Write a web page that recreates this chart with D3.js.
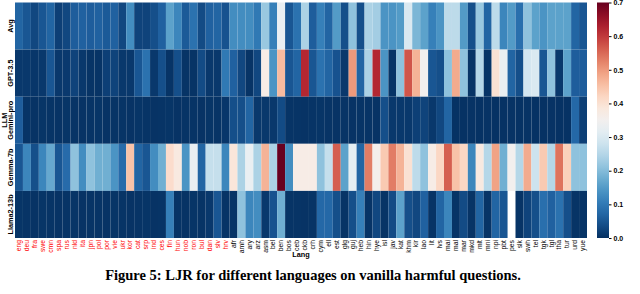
<!DOCTYPE html>
<html>
<head>
<meta charset="utf-8">
<script src="https://cdn.jsdelivr.net/npm/d3@7"></script>
<style>
  body { margin: 0; background: #fff; }
  svg { display: block; }
</style>
</head>
<body>
<svg id="chart" width="640" height="294"></svg>
<script>
// rows of the heatmap (top to bottom)
const models = ["Avg", "GPT-3.5", "Gemini-pro", "Gemma-7b", "Llama2-13b"];

// columns; the first 27 are drawn in red
const langs = [
  "eng","deu","fra","swe","cmn","spa","rus","nld","ita","jpn","pol","por","vie","ukr",
  "kor","cat","srp","ind","ces","fin","hun","nob","ron","bul","dan","slv","hrv",
  "afr","amh","ary","arz","asm","bel","ben","bos","ceb","ckb","crh","cym","ell","est",
  "glg","guj","heb","hin","hye","isl","jav","kat","khm","kir","lao","lit","lvs",
  "mai","mal","mar","mkd","mlt","mni","npi","pbt","pes","slk","swh","tel","tgk","tgl",
  "tha","tur","urd","yue"
];
const redCount = 27;

// LJR values per model, one per language (null = missing)
const avgVals = [
  0.07,0.05,0.03,0.05,0.07,0.02,0.03,0.06,0.065,0.06,0.065,0.055,0.065,0.03,
  0.13,0.025,0.025,0.04,0.065,0.16,0.12,0.055,0.09,0.035,0.065,0.07,0.045,
  0.13,0.13,0.13,0.10,0.22,0.11,0.33,0.05,0.09,0.24,0.06,0.11,0.07,0.15,
  0.04,0.21,0.04,0.24,0.23,0.14,0.14,0.15,0.30,0.19,0.16,0.11,0.14,
  0.26,0.26,0.15,0.04,0.22,0.07,0.26,0.12,0.15,0.085,0.21,0.16,0.14,
  0.16,0.16,0.16,0.07,0.05
];
const gptVals = [
  0.01,0.01,0.008,0.01,0.05,0.01,0.012,0.025,0.01,0.005,0.005,0.02,0.025,0.01,
  0.01,0.05,0.09,0.01,0.04,0.005,0.04,0.005,0.005,0.035,0.01,0.01,0.10,
  0.065,0.03,0.005,0.03,0.37,0.14,0.46,0.05,0.07,0.62,0.05,0.09,0.07,0.045,
  0.01,0.50,0.07,0.24,0.62,0.14,0.005,0.21,0.57,0.47,0.35,0.05,0.04,
  0.21,0.48,0.21,0.005,0.25,0.005,0.40,0.33,0.07,0.04,0.29,0.30,0.05,
  0.21,0.01,0.16,0.06,0.06
];
const geminiVals = [
  0.06,0.005,0.004,0.006,0.005,0.004,0.006,0.005,0.004,0.005,0.006,0.004,0.005,0.005,
  0.004,0.006,0.005,0.004,0.005,0.006,0.004,0.005,0.005,0.004,0.006,0.005,0.008,
  0.04,0.04,0.07,0.01,0.01,0.01,0.035,0.005,0.005,0.004,0.005,0.006,0.005,0.004,
  0.005,0.004,0.005,0.005,0.004,0.04,0.01,0.01,0.01,0.02,0.025,0.01,0.03,
  0.07,0.003,0.003,0.004,0.003,0.004,0.003,0.003,0.004,0.003,0.004,0.003,0.003,
  0.004,0.003,0.003,0.075,0.02
];
const gemmaVals = [
  0.05,0.12,0.04,0.12,0.17,0.05,0.08,0.21,0.13,0.21,0.18,0.18,0.14,0.08,
  0.45,0.07,0.05,0.13,0.18,0.41,0.38,0.14,0.33,0.07,0.27,0.27,0.12,
  0.39,0.24,0.33,0.24,0.47,0.24,0.70,0.13,0.37,0.37,0.37,0.21,0.27,0.56,
  0.16,0.32,0.07,0.53,0.36,0.44,0.53,0.47,0.40,0.26,0.21,0.37,0.42,
  0.56,0.45,0.42,0.12,0.38,0.25,0.49,0.18,0.35,0.25,0.48,0.28,0.44,
  0.25,0.54,0.43,0.21,0.21
];
const llamaVals = [
  0.006,0.005,0.004,0.006,0.005,0.004,0.005,0.006,0.004,0.005,0.005,0.004,0.006,0.005,
  0.004,0.005,0.006,0.004,0.005,0.11,0.005,0.004,0.006,0.005,0.01,0.05,0.005,
  0.005,0.21,0.12,0.13,0.01,0.045,0.18,0.005,0.005,0.004,0.005,0.075,0.075,0.04,
  0.005,0.04,0.11,0.005,0.03,0.005,0.035,0.16,0.04,0.03,0.065,0.005,0.07,
  0.12,0.005,0.035,0.005,0.07,0.005,0.07,0.05,null,0.005,0.025,0.04,0.085,
  0.065,0.09,0.04,0.005,0.005
];
const cbTicks = [0, 0.1, 0.2, 0.3, 0.4, 0.5, 0.6, 0.7];

const rows = [avgVals, gptVals, geminiVals, gemmaVals, llamaVals];
const cells = [];
rows.forEach((vals, r) => {
  vals.forEach((v, c) => {
    if (v !== null) cells.push({ model: models[r], lang: langs[c], value: v });
  });
});

const plotLeft = 15, plotRight = 587;
const plotTop = 2.5, plotBottom = 238;

const svg = d3.select("#chart");
const font = "'Liberation Sans', Arial, sans-serif";

const x = d3.scaleBand().domain(langs).range([plotLeft, plotRight]);
const y = d3.scaleBand().domain(models).range([plotTop, plotBottom]);
const color = d3.scaleSequential(t => d3.interpolateRdBu(1 - t)).domain([0, 0.7]);

svg.append("g")
  .selectAll("rect")
  .data(cells)
  .join("rect")
  .attr("x", d => x(d.lang))
  .attr("y", d => y(d.model))
  .attr("width", x.bandwidth())
  .attr("height", y.bandwidth())
  .attr("fill", d => color(d.value));

// x tick labels, rotated
svg.append("g")
  .selectAll("text")
  .data(langs)
  .join("text")
  .attr("transform", d => `translate(${x(d) + x.bandwidth() / 2 + 2.3},${plotBottom + 2}) rotate(-90)`)
  .attr("text-anchor", "end")
  .attr("font-family", font)
  .attr("font-size", 6.8)
  .attr("fill", (d, i) => i < redCount ? "#ff0000" : "#000")
  .text(d => d);

// y tick labels
svg.append("g")
  .selectAll("text")
  .data(models)
  .join("text")
  .attr("transform", d => `translate(${12.5},${y(d) + y.bandwidth() / 2}) rotate(-90)`)
  .attr("text-anchor", "middle")
  .attr("font-family", font)
  .attr("font-weight", "bold")
  .attr("font-size", 7.3)
  .text(d => d);

svg.append("text")
  .attr("transform", `translate(6.5,${(plotTop + plotBottom) / 2}) rotate(-90)`)
  .attr("text-anchor", "middle")
  .attr("font-family", font)
  .attr("font-weight", "bold")
  .attr("font-size", 7.3)
  .text("LLM");

svg.append("text")
  .attr("x", (plotLeft + plotRight) / 2)
  .attr("y", 257)
  .attr("text-anchor", "middle")
  .attr("font-family", font)
  .attr("font-weight", "bold")
  .attr("font-size", 7.3)
  .text("Lang");

// colorbar
const cbX = 597, cbW = 12;
const cbScale = d3.scaleLinear().domain([0, 0.7]).range([plotBottom, plotTop]);
const grad = svg.append("defs").append("linearGradient")
  .attr("id", "cbgrad").attr("x1", 0).attr("y1", 1).attr("x2", 0).attr("y2", 0);
d3.range(0, 1.0001, 0.05).forEach(t => {
  grad.append("stop").attr("offset", t).attr("stop-color", color(t * 0.7));
});
svg.append("rect")
  .attr("x", cbX).attr("y", plotTop)
  .attr("width", cbW).attr("height", plotBottom - plotTop)
  .attr("fill", "url(#cbgrad)");

const cbAxis = svg.append("g")
  .attr("transform", `translate(${cbX + cbW},0)`)
  .call(d3.axisRight(cbScale).tickValues(cbTicks).tickFormat(d3.format(".1f")).tickSize(2.5).tickPadding(2));
cbAxis.select(".domain").remove();
cbAxis.selectAll("text")
  .attr("font-family", font)
  .attr("font-weight", "bold")
  .attr("font-size", 7);

// caption
svg.append("text")
  .attr("x", 313)
  .attr("y", 280)
  .attr("text-anchor", "middle")
  .attr("font-family", "'Liberation Serif', 'Times New Roman', serif")
  .attr("font-weight", "bold")
  .attr("font-size", 14.5)
  .text("Figure 5: LJR for different languages on vanilla harmful questions.");
</script>
</body>
</html>
